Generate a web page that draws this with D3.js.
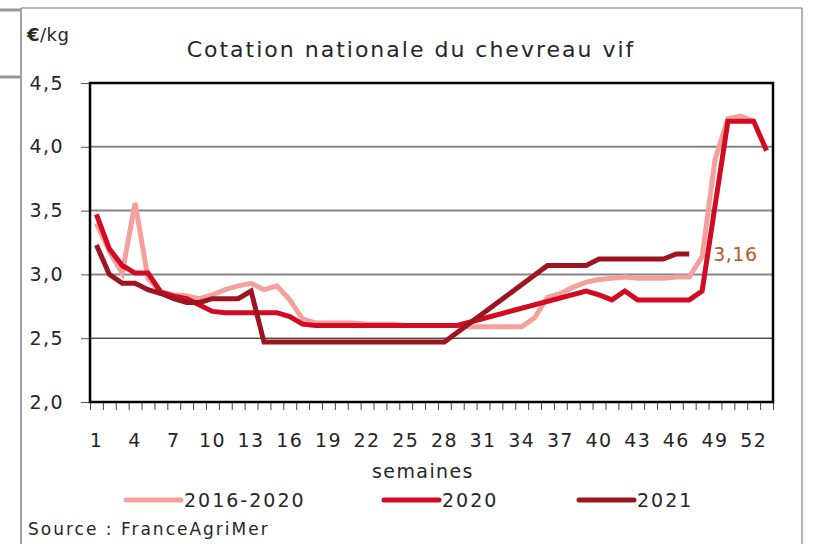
<!DOCTYPE html>
<html>
<head>
<meta charset="utf-8">
<script src="https://cdn.jsdelivr.net/npm/d3@7"></script>
<style>
  body { margin: 0; background: #fff; }
  svg text { font-family: "DejaVu Sans", sans-serif; fill: #262626; letter-spacing: 1.4px; }
</style>
</head>
<body>
<div id="chart"></div>
<script>
// weekly price, €/kg (null = no quotation that week)
const weeks = d3.range(1, 54);
const avg1620 = [3.40, 3.18, 3.01, 3.56, 2.97, 2.86, 2.84, 2.83, 2.81, 2.84,
  2.88, 2.91, 2.93, 2.88, 2.91, 2.80, 2.65, 2.62, 2.62, 2.62,
  2.62, 2.61, 2.61, 2.61, 2.60, 2.60, 2.60, 2.60, 2.60, 2.59,
  2.59, 2.59, 2.59, 2.59, 2.66, 2.82, 2.85, 2.90, 2.94, 2.96,
  2.97, 2.98, 2.97, 2.97, 2.97, 2.98, 2.98, 3.14, 3.90, 4.22,
  4.24, 4.20];
const y2020 = [3.47, 3.20, 3.07, 3.01, 3.01, 2.86, 2.83, 2.81, 2.76, 2.71,
  2.70, 2.70, 2.70, 2.70, 2.70, 2.67, 2.61, 2.60, 2.60, 2.60,
  2.60, 2.60, 2.60, 2.60, 2.60, 2.60, 2.60, 2.60, 2.60, null,
  null, null, null, null, null, null, null, null, 2.87, 2.84,
  2.80, 2.87, 2.80, 2.80, 2.80, 2.80, 2.80, 2.87, null, 4.20,
  4.20, 4.20, 3.97];
const y2021 = [3.23, 3.00, 2.93, 2.93, 2.88, 2.85, 2.81, 2.78, 2.78, 2.81,
  2.81, 2.81, 2.87, 2.47, 2.47, 2.47, 2.47, 2.47, 2.47, 2.47,
  2.47, 2.47, 2.47, 2.47, 2.47, 2.47, 2.47, 2.47, null, null,
  null, null, null, null, null, 3.07, 3.07, 3.07, 3.07, 3.12,
  3.12, 3.12, 3.12, 3.12, 3.12, 3.16, 3.16];

const seriesNames = ["2016-2020", "2020", "2021"];
const seriesColors = ["#f4a19d", "#d20a22", "#9c1520"];
const yTicks = [2.0, 2.5, 3.0, 3.5, 4.0, 4.5];
const xLabelWeeks = d3.range(1, 53, 3);

const width = 814, height = 544;
const svg = d3.select("#chart").append("svg")
  .attr("width", width).attr("height", height);

// frame from the slide
svg.append("line").attr("x1", 21).attr("x2", 21).attr("y1", 8).attr("y2", height)
  .attr("stroke", "#444").attr("stroke-width", 1);
svg.append("line").attr("x1", 21).attr("x2", 802).attr("y1", 8).attr("y2", 8)
  .attr("stroke", "#777").attr("stroke-width", 1);
svg.append("line").attr("x1", 802).attr("x2", 802).attr("y1", 8).attr("y2", height)
  .attr("stroke", "#999").attr("stroke-width", 1.5);
[10, 77].forEach(yy => {
  svg.append("line").attr("x1", 0).attr("x2", 20).attr("y1", yy).attr("y2", yy)
    .attr("stroke", "#999").attr("stroke-width", 3);
});

const plotLeft = 90, plotRight = 773, plotTop = 83, plotBottom = 402;
let x = d3.scaleLinear().domain([0.5, 53.5]).range([plotLeft, plotRight]);
let y = d3.scaleLinear().domain([2, 4.5]).range([plotBottom, plotTop]);
let fmt = v => d3.format(".1f")(v).replace(".", ",");

// gridlines
svg.append("g").selectAll("line")
  .data(yTicks.filter(t => t > 2 && t < 4.5))
  .enter().append("line")
  .attr("x1", plotLeft).attr("x2", plotRight)
  .attr("y1", d => y(d)).attr("y2", d => y(d))
  .attr("stroke", d => d === 2.5 ? "#000" : "#858585")
  .attr("stroke-width", d => d === 2.5 ? 1 : 2);

// y axis
let yAxis = svg.append("g").attr("transform", `translate(${plotLeft},0)`)
  .call(d3.axisLeft(y).tickValues(yTicks).tickFormat(fmt).tickSize(9).tickPadding(17));
yAxis.select(".domain").remove();
yAxis.selectAll("line").attr("stroke", "#555");
yAxis.selectAll("text").style("font-size", "19px").attr("fill", "#262626");

// x axis
let xAxis = svg.append("g").attr("transform", `translate(0,${plotBottom})`)
  .call(d3.axisBottom(x).tickValues(d3.range(0.5, 54, 1)).tickFormat("").tickSize(8));
xAxis.select(".domain").remove();
xAxis.selectAll("line").attr("stroke", "#444");

svg.append("g").selectAll("text")
  .data(xLabelWeeks)
  .enter().append("text")
  .attr("x", d => x(d)).attr("y", 447)
  .attr("text-anchor", "middle")
  .style("font-size", "19px")
  .text(d => d);

// plot border
svg.append("rect")
  .attr("x", plotLeft).attr("y", plotTop)
  .attr("width", plotRight - plotLeft).attr("height", plotBottom - plotTop)
  .attr("fill", "none").attr("stroke", "#000").attr("stroke-width", 2.5);

// lines, skipping weeks without quotation
let line = d3.line().x(d => x(d[0])).y(d => y(d[1]));
[avg1620, y2020, y2021].forEach((vals, i) => {
  let pts = vals.map((v, j) => [weeks[j], v]).filter(d => d[1] != null);
  svg.append("path")
    .datum(pts)
    .attr("d", line)
    .attr("fill", "none")
    .attr("stroke", seriesColors[i])
    .attr("stroke-width", 5)
    .attr("stroke-linejoin", "miter");
});

// last value label
let last = y2021[y2021.length - 1];
svg.append("text")
  .attr("x", x(y2021.length) + 24).attr("y", y(last) + 7)
  .style("font-size", "19px").style("fill", "#b5592c").style("letter-spacing", "0.5px")
  .text(d3.format(".2f")(last).replace(".", ","));

// titles
svg.append("text").attr("x", 27).attr("y", 41)
  .style("font-size", "18px").style("letter-spacing", "0.5px")
  .html('<tspan font-weight="bold">€</tspan>/kg');
svg.append("text").attr("x", 411).attr("y", 57)
  .attr("text-anchor", "middle")
  .style("font-size", "22px").style("letter-spacing", "2px")
  .text("Cotation nationale du chevreau vif");
svg.append("text").attr("x", 423).attr("y", 478)
  .attr("text-anchor", "middle")
  .style("font-size", "19px")
  .text("semaines");

// legend
const legendX = [126, 384, 579];
seriesNames.forEach((name, i) => {
  let g = svg.append("g").attr("transform", `translate(${legendX[i]},500)`);
  g.append("line").attr("x1", 0).attr("x2", 55)
    .attr("stroke", seriesColors[i]).attr("stroke-width", 5).attr("stroke-linecap", "round");
  g.append("text").attr("x", 58).attr("y", 7)
    .style("font-size", "19px").style("letter-spacing", "2px").text(name);
});

svg.append("text").attr("x", 28).attr("y", 535)
  .style("font-size", "17px").style("letter-spacing", "2px")
  .text("Source : FranceAgriMer");
</script>
</body>
</html>
